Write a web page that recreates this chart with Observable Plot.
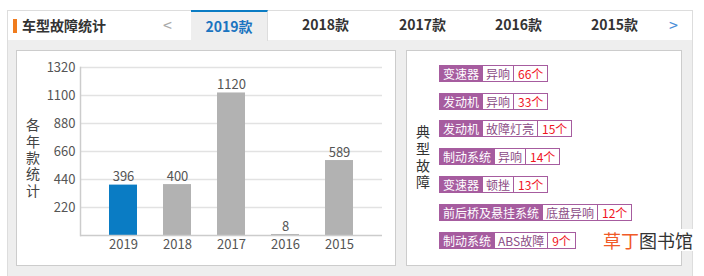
<!DOCTYPE html>
<html><head><meta charset="utf-8">
<script src="https://cdn.jsdelivr.net/npm/d3@7"></script>
<script src="https://cdn.jsdelivr.net/npm/@observablehq/plot@0.6"></script>
<style>
body{margin:0;width:704px;height:276px;background:#fff;font-family:"Noto Sans CJK SC","Noto Sans",sans-serif;position:relative;overflow:hidden}
.a{position:absolute;box-sizing:border-box}
.tab{position:absolute;top:10px;height:30px;line-height:29px;text-align:center;font-size:14px;font-weight:bold;color:#333;box-sizing:border-box}
.tag{position:absolute;left:439px;height:17px;display:flex;border:1px solid #a65c9f;font-size:12px;line-height:15px;box-sizing:border-box;white-space:nowrap}
.tag span{padding:0 3px}
.tag .s{background:#a65c9f;color:#fff}
.tag .f{color:#8b4b85;border-left:1px solid #a65c9f}
.tag .c{color:#f0141e;border-left:1px solid #a65c9f;padding:0 4px}
.vt{position:absolute;font-size:14px;line-height:16px;width:16px;writing-mode:vertical-rl;text-orientation:upright;color:#444}
</style></head><body>
<div class="a" style="left:7px;top:10px;width:686px;height:31px;background:#fff;border:1px solid #ddd"></div>
<div class="a" style="left:7px;top:40px;width:686px;height:236px;background:#eee;border-left:1px solid #ddd;border-right:1px solid #ddd"></div>
<div class="a" style="left:13px;top:19px;width:4px;height:14px;background:#f07c1e"></div>
<div class="a" style="left:22px;top:10px;height:30px;line-height:30px;font-size:14px;font-weight:bold;color:#333">车型故障统计</div>
<div class="a" style="left:163px;top:10px;height:30px;line-height:29px;font-size:16px;color:#aaa">&lt;</div>
<div class="a" style="left:191px;top:10px;width:1px;height:30px;background:#ddd"></div>
<div id="tabs"></div>
<div class="a" style="left:669px;top:10px;height:30px;line-height:29px;font-size:16px;color:#4a90d9">&gt;</div>

<div class="a" style="left:16px;top:50px;width:380px;height:216px;background:#fff;border:1px solid #ccc"></div>
<div class="a" style="left:406px;top:50px;width:276px;height:216px;background:#fff;border:1px solid #ccc"></div>
<div id="chart" class="a" style="left:17px;top:51px"></div>
<div id="ytitle" class="vt" style="left:25px;top:118px;letter-spacing:2.3px"></div>
<div id="ttitle" class="vt" style="left:415px;top:125px;letter-spacing:2.7px;color:#333"></div>
<div id="tags"></div>
<div class="a" style="left:603px;top:229px;font-size:18px;line-height:22px;background:#fff;padding-right:1px"><span style="color:#f05a28">草丁</span><span style="color:#333">图书馆</span></div>

<script>
// Bar chart data
const years = ["2019","2018","2017","2016","2015"];
const counts = [396,400,1120,8,589];
const yTicks = [220,440,660,880,1100,1320];
const activeYear = "2019";
const yTitle = "各年款统计";

// Tab labels
const tabLabels = ["2019款","2018款","2017款","2016款","2015款"];
const tabLefts = [191,287,384,480,576];

// Typical fault tags
const tagTitle = "典型故障";
const tagSystems = ["变速器","发动机","发动机","制动系统","变速器","前后桥及悬挂系统","制动系统"];
const tagFaults = ["异响","异响","故障灯亮","异响","顿挫","底盘异响","ABS故障"];
const tagCounts = [66,33,15,14,13,12,9];
const tagTops = [65,93,120,148,176,204,232];

document.getElementById("ytitle").textContent = yTitle;
document.getElementById("ttitle").textContent = tagTitle;

// tabs
const tabsEl = document.getElementById("tabs");
tabLabels.forEach((t,i)=>{
  const d = document.createElement("div");
  d.className = "tab";
  d.style.left = tabLefts[i]+"px";
  d.style.width = "77px";
  d.textContent = t;
  if (i===0){
    d.style.background="#eee"; d.style.color="#1a74c0";
    d.style.borderTop="2px solid #0a7cc4"; d.style.borderRight="1px solid #ddd";
    d.style.height="31px"; d.style.lineHeight="28px";
  }
  tabsEl.appendChild(d);
});

// tags
const tagsEl = document.getElementById("tags");
tagSystems.forEach((s,i)=>{
  const d = document.createElement("div");
  d.className="tag";
  d.style.top = tagTops[i]+"px";
  d.innerHTML = `<span class="s">${s}</span><span class="f">${tagFaults[i]}</span><span class="c">${tagCounts[i]}个</span>`;
  tagsEl.appendChild(d);
});

// chart
const data = years.map((y,i)=>({year:y,count:counts[i]}));
const chart = Plot.plot({
  width:378, height:214,
  marginLeft:63, marginRight:13, marginTop:16, marginBottom:30,
  style:{fontFamily:'"Noto Sans CJK SC","Noto Sans",sans-serif', fontSize:"13px", color:"#555", background:"transparent"},
  x:{domain:years, paddingInner:0.49, paddingOuter:0.5, label:null, tickSize:0, tickPadding:4},
  y:{domain:[0,1320], ticks:yTicks, tickFormat:d=>String(d), label:null, tickSize:0, tickPadding:5},
  color:{type:"identity"},
  marks:[
    Plot.ruleY(yTicks,{stroke:"#e2e2e2",strokeWidth:1.5}),
    Plot.barY(data,{x:"year",y:"count",fill:d=>d.year===activeYear?"#0a7cc4":"#b2b2b2"}),
    Plot.text(data,{x:"year",y:"count",text:d=>String(d.count),dy:-8,fill:"#555",fontSize:13}),
    Plot.ruleY([0],{stroke:"#ccc",strokeWidth:1.5}),
    Plot.frame({anchor:"left",stroke:"#ccc",strokeWidth:1.5})
  ]
});
document.getElementById("chart").appendChild(chart);
</script>
</body></html>
